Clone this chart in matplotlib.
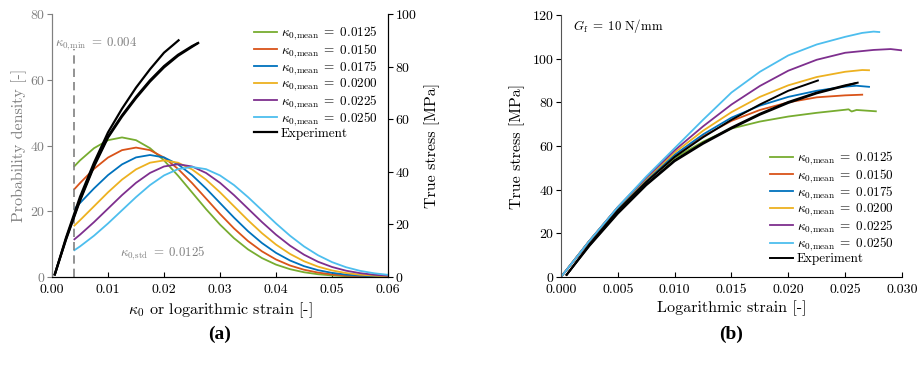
import matplotlib
matplotlib.use("Agg")
import matplotlib.pyplot as plt

plt.rcParams['font.family'] = 'cmr10'
plt.rcParams['mathtext.fontset'] = 'cm'
plt.rcParams['axes.formatter.use_mathtext'] = True
plt.rcParams['axes.unicode_minus'] = False

# ---- data ----
means = ['0.0125', '0.0150', '0.0175', '0.0200', '0.0225', '0.0250']
colors = ['#77AC30', '#D95319', '#0072BD', '#EDB120', '#7E2F8E', '#4DBEEE']

# (a) probability density of kappa_0
k0 = [0.004, 0.005, 0.0075, 0.01, 0.0125, 0.015, 0.0175, 0.02, 0.0225, 0.025, 0.0275, 0.03,
      0.0325, 0.035, 0.0375, 0.04, 0.0425, 0.045, 0.0475, 0.05, 0.0525, 0.055, 0.0575, 0.06]
pdf_0125 = [33.70, 35.47, 39.19, 41.62, 42.46, 41.62, 39.19, 35.47, 30.83, 25.75, 20.67, 15.94,
            11.80, 8.40, 5.75, 3.77, 2.38, 1.44, 0.84, 0.47, 0.25, 0.13, 0.07, 0.03]
pdf_0150 = [26.73, 28.59, 32.89, 36.34, 38.59, 39.37, 38.59, 36.34, 32.89, 28.59, 23.88, 19.17,
            14.78, 10.94, 7.79, 5.33, 3.50, 2.21, 1.34, 0.78, 0.44, 0.24, 0.12, 0.06]
pdf_0175 = [20.71, 22.51, 26.95, 31.00, 34.26, 36.38, 37.11, 36.38, 34.26, 31.00, 26.95, 22.51,
            18.07, 13.93, 10.32, 7.34, 5.02, 3.30, 2.08, 1.26, 0.73, 0.41, 0.22, 0.11]
pdf_0200 = [15.64, 17.27, 21.51, 25.76, 29.63, 32.74, 34.77, 35.47, 34.77, 32.74, 29.63, 25.76,
            21.51, 17.27, 13.31, 9.86, 7.02, 4.80, 3.15, 1.99, 1.21, 0.70, 0.39, 0.21]
pdf_0225 = [11.47, 12.87, 16.70, 20.80, 24.91, 28.65, 31.66, 33.62, 34.30, 33.62, 31.66, 28.65,
            24.91, 20.80, 16.70, 12.87, 9.54, 6.79, 4.64, 3.05, 1.92, 1.17, 0.68, 0.38]
pdf_0250 = [8.16, 9.30, 12.56, 16.29, 20.30, 24.30, 27.96, 30.90, 32.81, 33.47, 32.81, 30.90,
            27.96, 24.30, 20.30, 16.29, 12.56, 9.30, 6.62, 4.53, 2.98, 1.88, 1.14, 0.66]
pdfs = [pdf_0125, pdf_0150, pdf_0175, pdf_0200, pdf_0225, pdf_0250]

# experiments (true stress vs log strain)
expA_x = [0.0005, 0.0025, 0.005, 0.0075, 0.01, 0.0125, 0.015, 0.0175, 0.02, 0.0215, 0.0226]
expA_y = [1.0, 15.0, 30.5, 43.5, 55.0, 64.0, 72.0, 79.0, 85.3, 88.0, 90.0]
expB_x = [0.0005, 0.0025, 0.005, 0.0075, 0.01, 0.0125, 0.015, 0.0175, 0.02, 0.0225, 0.025, 0.0261]
expB_y = [1.0, 14.5, 29.5, 42.5, 53.5, 61.5, 68.5, 74.8, 80.2, 84.5, 87.8, 89.0]
expC_x = [0.0005, 0.0025, 0.005, 0.0075, 0.01, 0.0125, 0.015, 0.0175, 0.02, 0.0225, 0.025, 0.0259]
expC_y = [1.0, 14.2, 29.0, 42.0, 53.0, 61.0, 68.0, 74.3, 79.7, 84.1, 87.5, 88.7]
exps = [(expA_x, expA_y), (expB_x, expB_y), (expC_x, expC_y)]

# (b) simulations
eps = [0.0, 0.0025, 0.005, 0.0075, 0.01, 0.0125, 0.015, 0.0175, 0.02, 0.0225, 0.025]
sim_0125_y = [0, 16.5, 31.5, 44.0, 54.5, 62.0, 68.0, 71.2, 73.5, 75.2, 76.6, 76.8, 75.8, 76.5, 75.9]
sim_0125_x = eps + [0.0253, 0.02557, 0.026, 0.0277]
sim_0150_y = [0, 16.5, 31.8, 44.5, 55.5, 64.5, 71.5, 76.5, 80.0, 82.3, 83.2, 83.5]
sim_0150_x = eps + [0.0265]
sim_0175_y = [0, 16.5, 31.8, 44.6, 56.0, 65.3, 73.0, 78.5, 82.5, 85.3, 87.2, 87.6, 87.1]
sim_0175_x = eps + [0.026, 0.0271]
sim_0200_y = [0, 16.5, 32.0, 45.0, 57.0, 67.0, 75.5, 82.5, 87.8, 91.6, 94.0, 94.8, 94.7]
sim_0200_x = eps + [0.0265, 0.0271]
sim_0225_y = [0, 16.5, 32.0, 45.5, 58.0, 69.0, 79.0, 87.5, 94.5, 99.5, 102.7, 104.0, 104.4, 103.8]
sim_0225_x = eps + [0.0275, 0.029, 0.030]
sim_0250_y = [0, 16.5, 32.0, 46.0, 59.0, 72.0, 84.5, 94.0, 101.5, 106.5, 110.0, 111.8, 112.4, 112.2]
sim_0250_x = eps + [0.0265, 0.0275, 0.028]
sims = [(sim_0125_x, sim_0125_y), (sim_0150_x, sim_0150_y), (sim_0175_x, sim_0175_y),
        (sim_0200_x, sim_0200_y), (sim_0225_x, sim_0225_y), (sim_0250_x, sim_0250_y)]

gray = '#808080'
fs = 10
lab = 11.5
legfs = 9.5


def mean_label(m):
    return r'$\kappa_{0,\!\mathrm{mean}}\;=\;' + m + '$'


fig = plt.figure(figsize=(9.19, 3.65), dpi=100)

# ---------------- (a) ----------------
ax1 = fig.add_axes([0.0566, 0.2411, 0.3656, 0.7205])
ax2 = ax1.twinx()
handles = []
for m, c, p in zip(means, colors, pdfs):
    h, = ax1.plot(k0, p, color=c, lw=1.3, label=mean_label(m))
    handles.append(h)
ax1.plot([0.004, 0.004], [0, 69.5], ls=(0, (5, 3)), color=gray, lw=1.2)
ax1.text(0.0006, 70.3, r'$\kappa_{0,\!\mathrm{min}}\;=\;0.004$', color=gray, fontsize=9.3)
ax1.text(0.0122, 6.3, r'$\kappa_{0,\!\mathrm{std}}\;=\;0.0125$', color=gray, fontsize=9.3)

for ex, ey in exps:
    h, = ax2.plot(ex, ey, color='black', lw=1.6, label='Experiment')
handles.append(h)

ax1.set_xlim(0, 0.06)
ax1.set_ylim(0, 80)
ax2.set_ylim(0, 100)
ax1.set_xticks([0, 0.01, 0.02, 0.03, 0.04, 0.05, 0.06])
ax1.set_xticklabels(['0.00', '0.01', '0.02', '0.03', '0.04', '0.05', '0.06'])
ax1.set_yticks([0, 20, 40, 60, 80])
ax2.set_yticks([0, 20, 40, 60, 80, 100])
ax1.set_xlabel(r'$\kappa_0$ or logarithmic strain [-]', fontsize=lab, labelpad=3)
ax1.set_ylabel('Probability density [-]', fontsize=lab, color=gray, labelpad=2)
ax2.set_ylabel('True stress [MPa]', fontsize=lab, labelpad=5)
ax1.tick_params(axis='x', direction='in', length=3.5, labelsize=fs, pad=5)
ax1.tick_params(axis='y', direction='out', length=3.5, labelsize=fs, colors=gray, pad=1.5)
ax2.tick_params(axis='y', direction='out', length=3.5, labelsize=fs, pad=1.5)
for a in (ax1, ax2):
    a.spines['top'].set_visible(False)
ax1.spines['left'].set_color(gray)
ax2.spines['left'].set_color(gray)
ax2.legend(handles=handles, loc='upper left', bbox_to_anchor=(0.6, 0.96), frameon=False,
           fontsize=legfs, handlelength=1.75, handletextpad=0.3, labelspacing=-0.02,
           borderpad=0, borderaxespad=0)

# ---------------- (b) ----------------
ax3 = fig.add_axes([0.6104, 0.2411, 0.3711, 0.7178])
h3 = []
for m, c, (sx, sy) in zip(means, colors, sims):
    h, = ax3.plot(sx, sy, color=c, lw=1.3, label=mean_label(m))
    h3.append(h)
for ex, ey in exps:
    h, = ax3.plot(ex, ey, color='black', lw=1.4, label='Experiment')
h3.append(h)
ax3.set_xlim(0, 0.030)
ax3.set_ylim(0, 120)
ax3.set_xticks([0, 0.005, 0.01, 0.015, 0.02, 0.025, 0.03])
ax3.set_xticklabels(['0.000', '0.005', '0.010', '0.015', '0.020', '0.025', '0.030'])
ax3.set_yticks([0, 20, 40, 60, 80, 100, 120])
ax3.set_xlabel('Logarithmic strain [-]', fontsize=lab, labelpad=3)
ax3.set_ylabel('True stress [MPa]', fontsize=lab, labelpad=5)
ax3.tick_params(axis='x', direction='in', length=3.5, labelsize=fs, pad=5)
ax3.tick_params(axis='y', direction='out', length=3.5, labelsize=fs, pad=1.5)
ax3.spines['top'].set_visible(False)
ax3.spines['right'].set_visible(False)
ax3.spines['left'].set_color('#555555')
ax3.text(0.0011, 113, r'$G_\mathrm{f}\;=\;10\ \mathrm{N/mm}$', fontsize=9.3)
ax3.legend(handles=h3, loc='lower left', bbox_to_anchor=(0.613, 0.045), frameon=False,
           fontsize=legfs, handlelength=1.75, handletextpad=0.3, labelspacing=-0.02,
           borderpad=0, borderaxespad=0)

fig.text(0.239, 0.085, '(a)', fontsize=14, fontweight='bold', family='Liberation Serif',
         ha='center', va='center')
fig.text(0.795, 0.085, '(b)', fontsize=14, fontweight='bold', family='Liberation Serif',
         ha='center', va='center')

fig.savefig('out.png', dpi=100)
